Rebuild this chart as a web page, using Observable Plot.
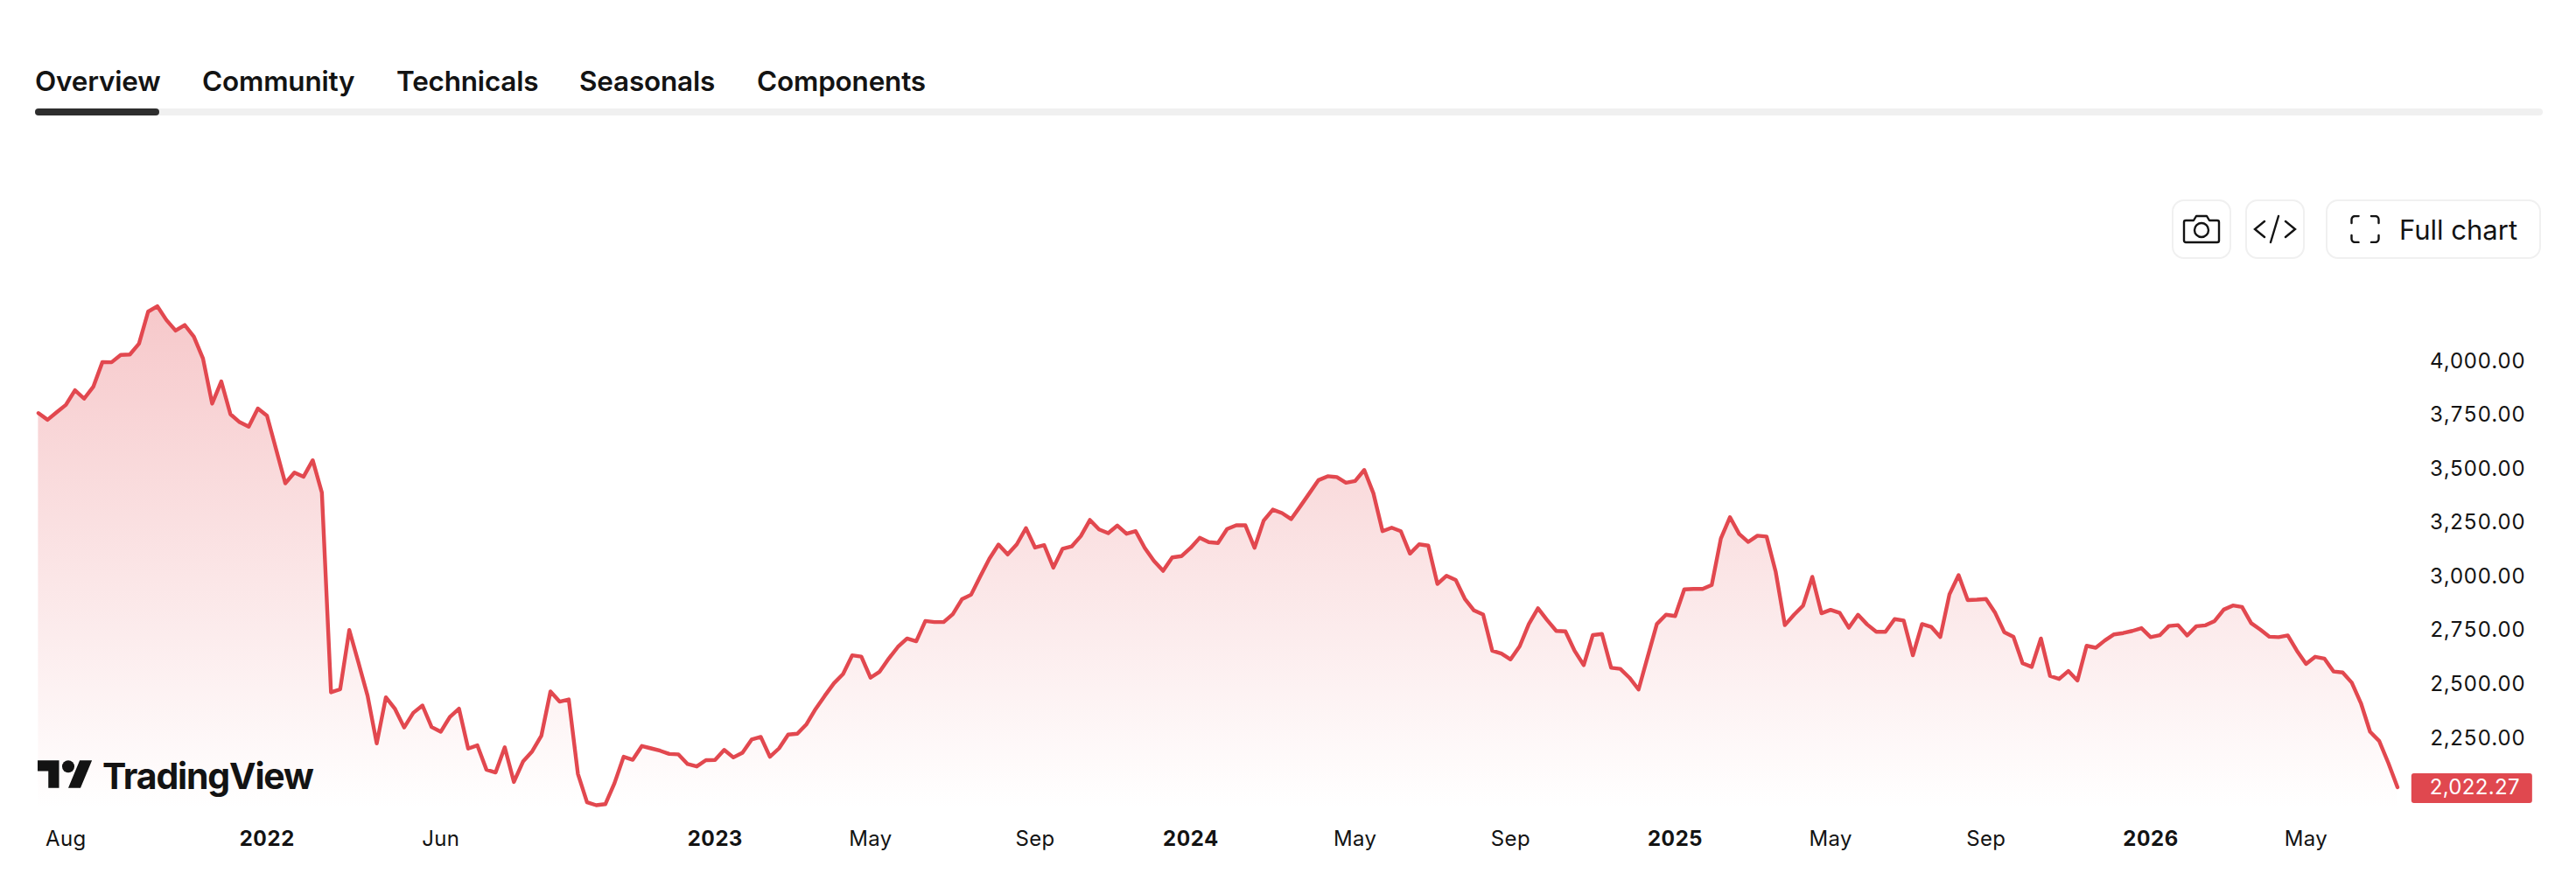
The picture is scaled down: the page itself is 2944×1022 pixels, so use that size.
<!DOCTYPE html>
<html><head><meta charset="utf-8">
<script src="https://cdn.jsdelivr.net/npm/d3@7"></script>
<script src="https://cdn.jsdelivr.net/npm/@observablehq/plot@0.6"></script>
<style>
html,body{margin:0;padding:0;background:#fff;overflow:hidden;font-family:Inter,sans-serif;color:#131313}
#page{position:relative;width:2944px;height:1022px}
#head{height:300px}
.tab{position:absolute;top:73px;font-size:31.5px;font-weight:600;line-height:40px;white-space:nowrap;letter-spacing:-.2px}
#track{position:absolute;left:40px;top:124px;width:2866px;height:8px;background:#f0f0f0;border-radius:4px}
#active{position:absolute;left:40px;top:124px;width:142px;height:8px;background:#2e2e2e;border-radius:4px}
.btn{position:absolute;top:228px;height:64px;box-sizing:content-box;border:2px solid #f0f0f0;border-radius:14px;background:#fff;display:flex;align-items:center;justify-content:center}
#logo{position:absolute;left:43px;top:860px;height:56px;display:flex;align-items:center}
#logo span{position:absolute;left:74px;top:2px;font-size:41px;font-weight:700;letter-spacing:-1.2px;line-height:50px;color:#131313;white-space:nowrap}
#chart{position:absolute;left:0;top:300px}
</style></head><body>
<div id="page">
<div id="head">
  <div class="tab" style="left:40px">Overview</div>
  <div class="tab" style="left:231px">Community</div>
  <div class="tab" style="left:453px">Technicals</div>
  <div class="tab" style="left:662px">Seasonals</div>
  <div class="tab" style="left:865px">Components</div>
  <div id="track"></div><div id="active"></div>
  <div class="btn" style="left:2482px;width:64px">
    <svg width="44" height="34" viewBox="0 0 44 34" fill="none" stroke="#131313" stroke-width="2.4" stroke-linejoin="round"><path d="M4 7h9l3-5h12l3 5h9a2 2 0 0 1 2 2v21a2 2 0 0 1-2 2H4a2 2 0 0 1-2-2V9a2 2 0 0 1 2-2z"/><circle cx="22" cy="18" r="8"/></svg>
  </div>
  <div class="btn" style="left:2566px;width:64px">
    <svg width="50" height="34" viewBox="0 0 50 34" fill="none" stroke="#131313" stroke-width="2.4" stroke-linecap="round"><path d="M13 8L2 17l11 9M37 8l11 9-11 9M29 2L20 32"/></svg>
  </div>
  <div class="btn" style="left:2658px;width:242px;justify-content:flex-start">
    <svg style="margin-left:26px" width="34" height="32" viewBox="0 0 34 32" fill="none" stroke="#131313" stroke-width="2.4" stroke-linecap="round"><path d="M1.500 9V5a4 4 0 0 1 4-4h4M24 1h4.500a4 4 0 0 1 4 4v4M32.500 23v4a4 4 0 0 1-4 4H24M9.500 31h-4a4 4 0 0 1-4-4v-4"/></svg>
    <span style="margin-left:22px;font-size:31px;font-weight:400;color:#131313;white-space:nowrap">Full chart</span>
  </div>
</div>
<div id="chart"></div>
<div id="logo">
  <svg width="63" height="32" viewBox="0 4 36 18" style="position:absolute;left:0;top:9px"><path fill="#131313" d="M14 22H7V11H0V4h14v18zM28 22h-8l7.500-18h8L28 22z"/><circle fill="#131313" cx="20" cy="8" r="4"/></svg>
  <span>TradingView</span>
</div>
</div>
<script>
// Weekly closes (one entry per week that has data).
const closes2021 = [3759,3728,3763,3797,3865,3826,3881,3996,3995,4029,4031,4081,4230,4255,4191,4142,4168,4114,4012,3803,3906,3754,3717,3696,3780];
const closes2022 = [3747,3590,3433,3483,3464,3540,3390,2463,2477,2752,2601,2447,2226,2440,2386,2300,2368,2402,2302,2280,2349,2387,2202,2217,2104,2091,2208,2047,2142,2189,2261,2467,2420,2430,2085,1953,1939,1944,2041,2164,2150,2214,2203,2192,2177,2175,2130,2119,2148];
const closes2023 = [2149,2196,2161,2183,2244,2256,2164,2203,2267,2271,2315,2386,2447,2505,2548,2635,2629,2531,2559,2620,2674,2713,2700,2794,2789,2789,2826,2895,2916,3001,3083,3149,3103,3150,3225,3135,3146,3042,3129,3140,3188,3263,3219,3202,3237,3199,3211,3133,3073,3027,3089,3095];
const closes2024 = [3133,3180,3160,3156,3221,3238,3238,3134,3260,3311,3295,3267,3326,3387,3448,3466,3462,3436,3444,3495,3387,3211,3227,3211,3107,3150,3144,2966,3004,2985,2897,2843,2824,2656,2643,2616,2677,2780,2853,2798,2748,2746,2656,2589,2729,2734,2577,2572,2531,2476,2629,2780,2823];
const closes2025 = [2817,2941,2943,2943,2961,3177,3276,3198,3161,3190,3186,3022,2775,2823,2866,2999,2830,2846,2832,2763,2823,2778,2744,2744,2803,2796,2635,2780,2767,2720,2918,3007,2891,2893,2896,2832,2742,2721,2598,2581,2713,2539,2525,2562,2518,2679,2670,2704,2732,2738,2748,2761];
const closes2026 = [2719,2728,2771,2775,2727,2770,2774,2794,2847,2866,2859,2784,2754,2721,2719,2727,2656,2595,2628,2620,2560,2555,2508,2413,2280,2237,2135,2022.27];
const closes = [...closes2021,...closes2022,...closes2023,...closes2024,...closes2025,...closes2026];

const monthTicks = [3,44,91,109,144,161,196,213,248];
const monthLabels = ["Aug","Jun","May","Sep","May","Sep","May","Sep","May"];
const yearTicks = [25,74,126,179,231];
const yearLabels = ["2022","2023","2024","2025","2026"];
const priceTicks = [2250,2500,2750,3000,3250,3500,3750,4000];

const red = "#e2484f";
const ink = "#131313";
const floorPrice = 1918.8;
const rows = closes.map((close, week) => ({week, close}));
const lastWeek = rows.length - 1;
const lastClose = closes[lastWeek];

const gradient = () => {
  const ns = "http://www.w3.org/2000/svg";
  const defs = document.createElementNS(ns, "defs");
  const g = document.createElementNS(ns, "linearGradient");
  g.setAttribute("id", "fade"); g.setAttribute("x1", 0); g.setAttribute("x2", 0); g.setAttribute("y1", 0); g.setAttribute("y2", 1);
  [[0, 0.3], [1, 0]].forEach(([o, a]) => {
    const s = document.createElementNS(ns, "stop");
    s.setAttribute("offset", o); s.setAttribute("stop-color", red); s.setAttribute("stop-opacity", a);
    g.appendChild(s);
  });
  defs.appendChild(g);
  return defs;
};

const chart = Plot.plot({
  width: 2944, height: 722,
  marginLeft: 43.4, marginRight: 204.5, marginTop: 45, marginBottom: 97,
  style: {fontFamily: "Inter, sans-serif", background: "transparent", overflow: "visible", letterSpacing: "0.35px"},
  x: {domain: [0, lastWeek]},
  y: {domain: [floorPrice, 4273.6]},
  marks: [
    gradient,
    Plot.areaY(rows, {x: "week", y1: floorPrice, y2: "close", fill: "url(#fade)"}),
    Plot.lineY(rows, {x: "week", y: "close", stroke: red, strokeWidth: 4.4, strokeLinejoin: "round"}),
    Plot.rect([lastClose], {x1: lastWeek + 1.56, x2: lastWeek + 14.77, y1: floorPrice + 28, y2: floorPrice + 166, fill: "#e0484f", rx: 3}),
    Plot.text([lastClose], {x: lastWeek, y: d => d, text: d3.format(",.2f"), dx: 140, textAnchor: "end", fill: "#fff", fontSize: 24}),
    Plot.axisY(priceTicks, {anchor: "right", tickSize: 0, tickPadding: 37, tickFormat: d3.format(",.2f"), fontSize: 24, fill: ink, label: null}),
    Plot.axisX(monthTicks, {tickSize: 0, tickPadding: 24, fontSize: 24, fill: ink, label: null, tickFormat: d => monthLabels[monthTicks.indexOf(d)]}),
    Plot.axisX(yearTicks, {tickSize: 0, tickPadding: 24, fontSize: 24, fontWeight: 700, fill: ink, label: null, tickFormat: d => yearLabels[yearTicks.indexOf(d)]})
  ]
});
document.getElementById("chart").appendChild(chart);
</script>
</body></html>
